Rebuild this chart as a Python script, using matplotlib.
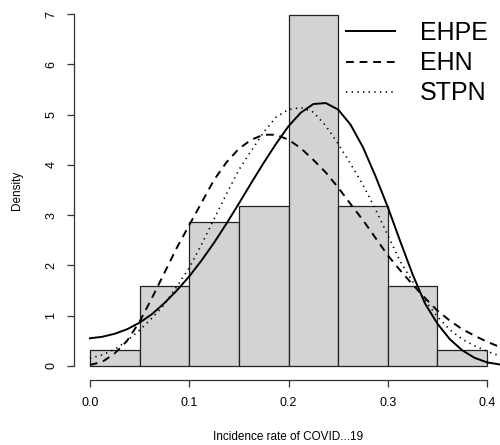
"""
Histogram of COVID-19 incidence rates with three fitted densities.
"""

import numpy as np
from matplotlib import pyplot as plt

plt.rcParams["font.family"] = ["Liberation Sans", "DejaVu Sans"]

# histogram (density scale), bins of width 0.05
bin_edges = [0.0, 0.05, 0.10, 0.15, 0.20, 0.25, 0.30, 0.35, 0.40]
bin_density = [0.317, 1.587, 2.857, 3.175, 6.984, 3.175, 1.587, 0.317]

# fitted densities
curve_x = np.round(np.arange(0, 0.42, 0.0125), 4)
ehpe = [0.55, 0.58, 0.64, 0.73, 0.86, 1.03, 1.25, 1.50, 1.78, 2.10, 2.45, 2.83,
        3.23, 3.64, 4.04, 4.42, 4.77, 5.04, 5.21, 5.23, 5.10, 4.80, 4.35, 3.78,
        3.16, 2.48, 1.82, 1.24, 0.84, 0.53, 0.31, 0.16, 0.07, 0.03]
ehn = [0.02, 0.08, 0.25, 0.50, 0.88, 1.35, 1.85, 2.35, 2.80, 3.25, 3.70, 4.05,
       4.32, 4.50, 4.60, 4.60, 4.50, 4.33, 4.10, 3.85, 3.55, 3.22, 2.90, 2.55,
       2.20, 1.90, 1.62, 1.35, 1.10, 0.90, 0.73, 0.60, 0.48, 0.38]
stpn = [0.15, 0.22, 0.33, 0.50, 0.71, 0.95, 1.22, 1.58, 1.95, 2.42, 2.92, 3.42,
        3.90, 4.28, 4.65, 4.95, 5.10, 5.14, 5.05, 4.78, 4.42, 4.02, 3.60, 3.12,
        2.60, 2.08, 1.68, 1.30, 0.98, 0.72, 0.53, 0.40, 0.29, 0.20]

x_ticks = [0.0, 0.1, 0.2, 0.3, 0.4]
y_ticks = [0, 1, 2, 3, 4, 5, 6, 7]

fig = plt.figure(figsize=(5, 4.45), dpi=100)
ax = fig.add_axes([74 / 500, 65 / 445, 429 / 500, 380 / 445])

ax.bar(bin_edges[:-1], bin_density, width=np.diff(bin_edges), align="edge",
       color="#d3d3d3", edgecolor="#222222", linewidth=0.9)

ax.plot(curve_x, ehpe, color="black", lw=1.4, label="EHPE")
ax.plot(curve_x, ehn, color="black", lw=1.4, linestyle=(0, (4, 3)), label="EHN")
ax.plot(curve_x, stpn, color="black", lw=1.2, linestyle=(0, (0.8, 2.6)), label="STPN")

ax.set_xlim(-0.016, 0.416)
ax.set_ylim(-0.28, 7.28)

# R style axes: no box, axis lines only span the ticks
for side in ["top", "right"]:
    ax.spines[side].set_visible(False)
ax.spines["left"].set_bounds(0, 7)
ax.spines["bottom"].set_bounds(0, 0.4)
for side in ["left", "bottom"]:
    ax.spines[side].set_color("#333333")
    ax.spines[side].set_linewidth(0.9)

ax.set_xticks(x_ticks)
ax.set_xticklabels([f"{v:.1f}" for v in x_ticks])
ax.set_yticks(y_ticks)
ax.set_yticklabels([str(v) for v in y_ticks], rotation=90, va="center")
ax.tick_params(length=5, width=0.9, color="#333333", labelsize=9, pad=7)

ax.set_xlabel("Incidence rate of COVID...19", fontsize=8.5, labelpad=16)
ax.set_ylabel("Density", fontsize=8.5, labelpad=16)

ax.legend(loc="upper left", bbox_to_anchor=(346 / 500, 1 - 21 / 445),
          bbox_transform=fig.transFigure, frameon=False, fontsize=18,
          handlelength=1.95, handletextpad=1.0, labelspacing=0.25,
          borderpad=0, borderaxespad=0)

plt.savefig("out.png", dpi=100)
